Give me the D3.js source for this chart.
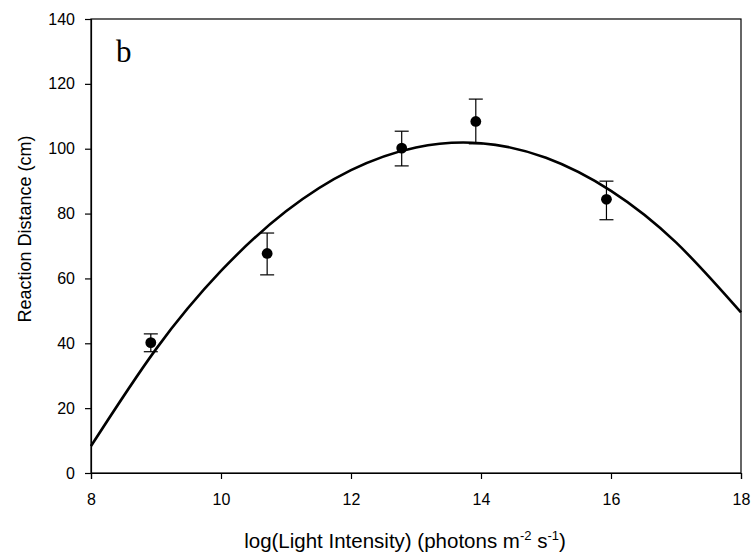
<!DOCTYPE html>
<html>
<head>
<meta charset="utf-8">
<script src="https://cdn.jsdelivr.net/npm/d3@7"></script>
<style>
  html, body { margin: 0; padding: 0; background: #fff; }
  svg { display: block; }
  text { font-family: "Liberation Sans", Arial, sans-serif; fill: #000; }
</style>
</head>
<body>
<svg id="chart" width="752" height="556"></svg>
<script>
// ---- Data ----
const pointX     = [8.92, 10.71, 12.78, 13.92, 15.93];
const pointY     = [40.2, 67.7, 100.2, 108.4, 84.4];
const errUpper   = [42.9, 74.0, 105.4, 115.3, 90.0];
const errLower   = [37.4, 61.1, 94.7, 101.5, 78.1];

// fitted curve
const curveX     = [8, 9, 10, 11, 12, 13, 14, 15, 16, 17, 18];
const curveY     = [8.3, 38.2, 62.3, 80.7, 93.4, 100.4, 101.7, 97.2, 87.0, 71.1, 49.5];

const xTicks     = [8, 10, 12, 14, 16, 18];
const yTicks     = [0, 20, 40, 60, 80, 100, 120, 140];
const panelLabel = "b";

// ---- Layout ----
const svg = d3.select("#chart");
const mLeft = 91, mRight = 741, mTop = 19, mBottom = 473;

const x = d3.scaleLinear().domain([8, 18]).range([mLeft, mRight]);
const y = d3.scaleLinear().domain([0, 140]).range([mBottom, mTop]);

// frame
svg.append("rect")
  .attr("x", mLeft).attr("y", mTop)
  .attr("width", mRight - mLeft).attr("height", mBottom - mTop)
  .attr("fill", "none").attr("stroke", "#000").attr("stroke-width", 1.2);

// axes
const xAxis = d3.axisBottom(x).tickValues(xTicks).tickSize(6).tickPadding(15).tickFormat(d3.format("d"));
const yAxis = d3.axisLeft(y).tickValues(yTicks).tickSize(6).tickPadding(10).tickFormat(d3.format("d"));

const gx = svg.append("g").attr("transform", `translate(0,${mBottom})`).call(xAxis);
const gy = svg.append("g").attr("transform", `translate(${mLeft},0)`).call(yAxis);
[gx, gy].forEach(g => {
  g.select(".domain").attr("stroke", "#000").attr("stroke-width", 1.2);
  g.selectAll(".tick line").attr("stroke", "#000").attr("stroke-width", 1.2);
  g.selectAll(".tick text").attr("font-size", 16).attr("font-family", "Liberation Sans, Arial, sans-serif").attr("fill", "#000");
});

// curve
const line = d3.line().x((d, i) => x(curveX[i])).y((d, i) => y(curveY[i])).curve(d3.curveNatural);
svg.append("path")
  .datum(curveX)
  .attr("d", line)
  .attr("fill", "none")
  .attr("stroke", "#000")
  .attr("stroke-width", 2.6);

// error bars
const eb = svg.append("g").attr("stroke", "#000").attr("stroke-width", 1.2);
pointX.forEach((px, i) => {
  const cx = x(px);
  eb.append("line").attr("x1", cx).attr("x2", cx).attr("y1", y(errUpper[i])).attr("y2", y(errLower[i]));
  eb.append("line").attr("x1", cx - 7).attr("x2", cx + 7).attr("y1", y(errUpper[i])).attr("y2", y(errUpper[i]));
  eb.append("line").attr("x1", cx - 7).attr("x2", cx + 7).attr("y1", y(errLower[i])).attr("y2", y(errLower[i]));
});

// points
svg.append("g").selectAll("circle")
  .data(pointX)
  .join("circle")
  .attr("cx", d => x(d))
  .attr("cy", (d, i) => y(pointY[i]))
  .attr("r", 5.4)
  .attr("fill", "#000");

// panel label
svg.append("text")
  .attr("x", 116).attr("y", 62)
  .style("font-family", "'Liberation Serif', 'Times New Roman', serif")
  .attr("font-size", 31)
  .text(panelLabel);

// y title
svg.append("text")
  .attr("transform", `translate(31,229) rotate(-90)`)
  .attr("text-anchor", "middle")
  .attr("font-size", 18)
  .text("Reaction Distance (cm)");

// x title with superscripts
const xt = svg.append("text")
  .attr("x", 405)
  .attr("y", 548)
  .attr("text-anchor", "middle")
  .attr("font-size", 20.5);
xt.append("tspan").text("log(Light Intensity) (photons m");
xt.append("tspan").attr("font-size", 13).attr("dy", -8).text("-2");
xt.append("tspan").attr("dy", 8).text(" s");
xt.append("tspan").attr("font-size", 13).attr("dy", -8).text("-1");
xt.append("tspan").attr("dy", 8).text(")");
</script>
</body>
</html>
